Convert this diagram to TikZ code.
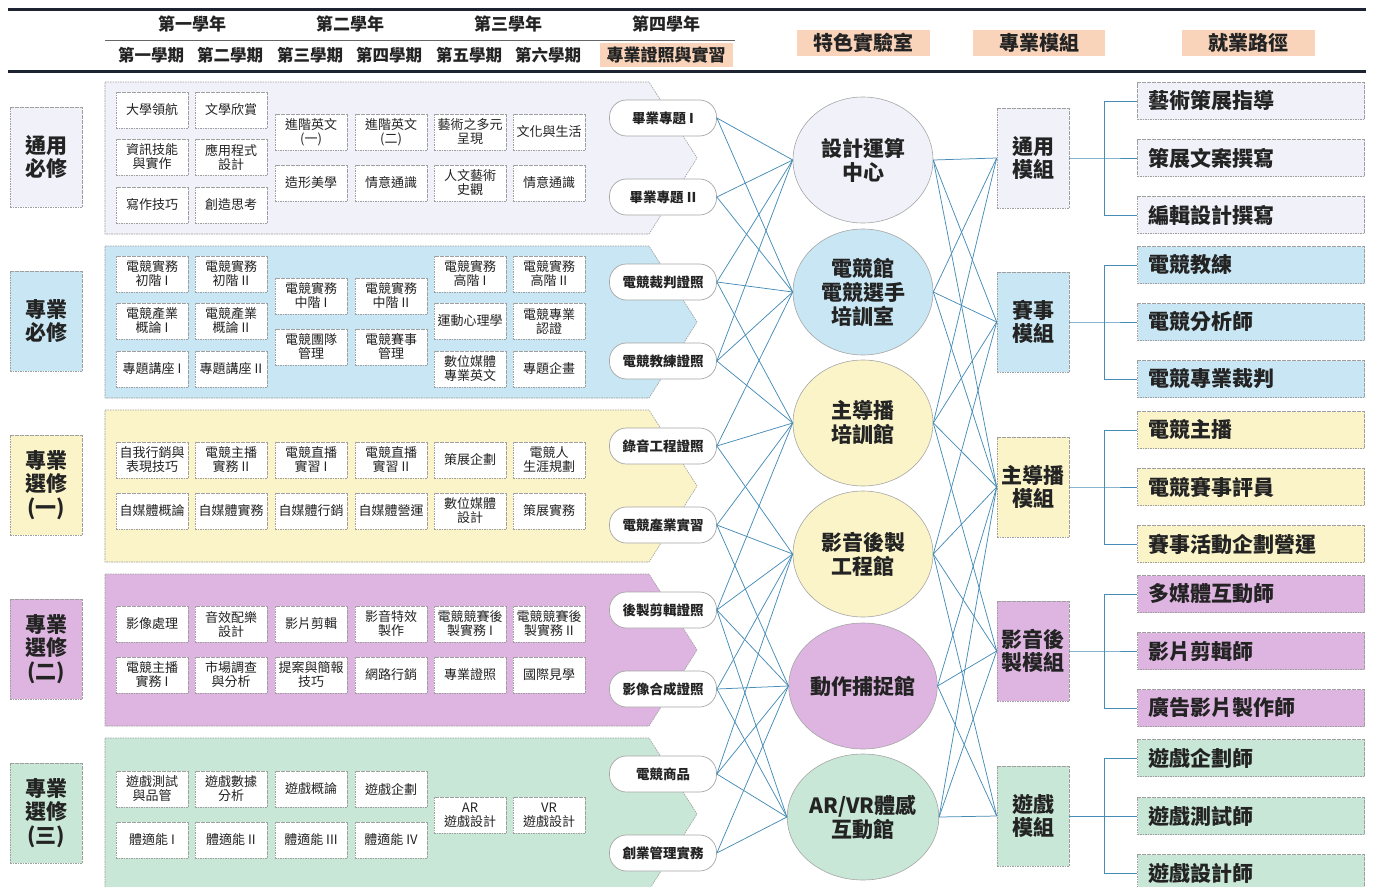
\documentclass[tikz,border=0pt]{standalone}
\usepackage{fontspec}
\setmainfont{Noto Sans CJK TC}
\usetikzlibrary{shapes.geometric}
\definecolor{cLav}{RGB}{241,242,249}
\definecolor{cBlue}{RGB}{200,230,243}
\definecolor{cYel}{RGB}{250,244,200}
\definecolor{cPur}{RGB}{221,181,224}
\definecolor{cGrn}{RGB}{200,231,214}
\definecolor{cPeach}{RGB}{249,212,186}
\definecolor{cLine}{RGB}{70,140,182}
\definecolor{cNavy}{RGB}{30,35,50}
\definecolor{cText}{RGB}{35,35,35}
\tikzset{
 dbord/.style={draw=gray!75, line width=0.6pt, dash pattern=on 1.6pt off 0.9pt},
 course/.style={dbord, fill=white, minimum width=72pt, minimum height=36pt, inner sep=0.5pt, align=center, font=\fontsize{13}{14}\selectfont, text=cText},
 cat/.style={dbord, minimum width=72pt, minimum height=100pt, inner sep=1pt, align=center, font=\fontsize{21}{23.5}\selectfont\bfseries, text=cText},
 pill/.style={draw=gray!70, line width=0.7pt, fill=white, rounded corners=17pt, minimum width=107pt, minimum height=36pt, inner sep=1pt, font=\fontsize{13.5}{15}\selectfont\bfseries, text=cText},
 lab/.style={ellipse, draw=gray!70, line width=0.6pt, minimum width=140pt, minimum height=126pt, align=center, font=\fontsize{21}{24}\selectfont\bfseries, inner sep=0pt, text=cText},
 career/.style={dbord, minimum width=227pt, minimum height=37pt, text width=205pt, align=left, font=\fontsize{21}{23}\selectfont\bfseries, text=cText},
 link/.style={draw=cLine, line width=0.75pt},
 band/.style={dbord},
 hdr/.style={font=\fontsize{17}{19}\selectfont\bfseries, text=cText},
 sem/.style={font=\fontsize{16.5}{18}\selectfont\bfseries, text=cText, inner sep=1pt},
 peachbox/.style={fill=cPeach, minimum height=26pt, font=\fontsize{20}{22}\selectfont\bfseries, text=cText},
}
\begin{document}
\begin{tikzpicture}[x=1pt,y=-1pt]
\useasboundingbox (0,0) rectangle (1373,886);
% header
\draw[cNavy, line width=3pt] (8,9) -- (1366,9);
\draw[cNavy, line width=3pt] (8,71) -- (1366,71);
\draw[gray!80!black, line width=0.8pt] (105,40) -- (735,40);
\node[hdr] (y1) at (192,24) {第一學年};
\node[hdr] (y2) at (350,24) {第二學年};
\node[hdr] (y3) at (508,24) {第三學年};
\node[hdr] (y4) at (666,24) {第四學年};
\node[sem] (s1) at (151,55) {第一學期};
\node[sem] (s2) at (230,55) {第二學期};
\node[sem] (s3) at (310,55) {第三學期};
\node[sem] (s4) at (389,55) {第四學期};
\node[sem] (s5) at (469,55) {第五學期};
\node[sem] (s6) at (548,55) {第六學期};
\node[sem, fill=cPeach, minimum width=133pt, minimum height=24pt, font=\fontsize{17}{19}\selectfont\bfseries] (s7) at (666,55) {專業證照與實習};
\node[peachbox, minimum width=133pt] (h1) at (863,43) {特色實驗室};
\node[peachbox, minimum width=132pt] (h2) at (1039,43) {專業模組};
\node[peachbox, minimum width=133pt] (h3) at (1248,43) {就業路徑};
% bands
\foreach \T/\c in {82/cLav,246/cBlue,410/cYel,574/cPur,738/cGrn}{
  \draw[band, fill=\c] (105,\T) -- (649,\T) -- (697,\T+76) -- (649,\T+152) -- (105,\T+152) -- cycle;
}
% category boxes
\node[cat, fill=cLav] (k1) at (46,157) {通用\\必修};
\node[cat, fill=cBlue] (k2) at (46,321) {專業\\必修};
\node[cat, fill=cYel] (k3) at (46,485) {專業\\選修\\(一)};
\node[cat, fill=cPur] (k4) at (46,649) {專業\\選修\\(二)};
\node[cat, fill=cGrn] (k5) at (46,813) {專業\\選修\\(三)};
% band 1 courses
\node[course] (a11) at (152,110) {大學領航};
\node[course] (a12) at (152,157) {資訊技能\\與實作};
\node[course] (a13) at (152,205) {寫作技巧};
\node[course] (a21) at (231,110) {文學欣賞};
\node[course] (a22) at (231,157) {應用程式\\設計};
\node[course] (a23) at (231,205) {創造思考};
\node[course] (a31) at (311,132) {進階英文\\(一)};
\node[course] (a32) at (311,183) {造形美學};
\node[course] (a41) at (391,132) {進階英文\\(二)};
\node[course] (a42) at (391,183) {情意通識};
\node[course] (a51) at (470,132) {藝術之多元\\呈現};
\node[course] (a52) at (470,183) {人文藝術\\史觀};
\node[course] (a61) at (549,132) {文化與生活};
\node[course] (a62) at (549,183) {情意通識};
% band 2 courses
\node[course] (b11) at (152,274) {電競實務\\初階 I};
\node[course] (b12) at (152,321) {電競產業\\概論 I};
\node[course] (b13) at (152,369) {專題講座 I};
\node[course] (b21) at (231,274) {電競實務\\初階 II};
\node[course] (b22) at (231,321) {電競產業\\概論 II};
\node[course] (b23) at (231,369) {專題講座 II};
\node[course] (b31) at (311,296) {電競實務\\中階 I};
\node[course] (b32) at (311,347) {電競團隊\\管理};
\node[course] (b41) at (391,296) {電競實務\\中階 II};
\node[course] (b42) at (391,347) {電競賽事\\管理};
\node[course] (b51) at (470,274) {電競實務\\高階 I};
\node[course] (b52) at (470,321) {運動心理學};
\node[course] (b53) at (470,369) {數位媒體\\專業英文};
\node[course] (b61) at (549,274) {電競實務\\高階 II};
\node[course] (b62) at (549,321) {電競專業\\認證};
\node[course] (b63) at (549,369) {專題企畫};
% band 3 courses
\node[course] (c11) at (152,460) {自我行銷與\\表現技巧};
\node[course] (c21) at (231,460) {電競主播\\實務 II};
\node[course] (c31) at (311,460) {電競直播\\實習 I};
\node[course] (c41) at (391,460) {電競直播\\實習 II};
\node[course] (c51) at (470,460) {策展企劃};
\node[course] (c61) at (549,460) {電競人\\生涯規劃};
\node[course] (c12) at (152,511) {自媒體概論};
\node[course] (c22) at (231,511) {自媒體實務};
\node[course] (c32) at (311,511) {自媒體行銷};
\node[course] (c42) at (391,511) {自媒體營運};
\node[course] (c52) at (470,511) {數位媒體\\設計};
\node[course] (c62) at (549,511) {策展實務};
% band 4 courses
\node[course] (d11) at (152,624) {影像處理};
\node[course] (d21) at (231,624) {音效配樂\\設計};
\node[course] (d31) at (311,624) {影片剪輯};
\node[course] (d41) at (391,624) {影音特效\\製作};
\node[course] (d51) at (470,624) {電競競賽後\\製實務 I};
\node[course] (d61) at (549,624) {電競競賽後\\製實務 II};
\node[course] (d12) at (152,675) {電競主播\\實務 I};
\node[course] (d22) at (231,675) {市場調查\\與分析};
\node[course] (d32) at (311,675) {提案與簡報\\技巧};
\node[course] (d42) at (391,675) {網路行銷};
\node[course] (d52) at (470,675) {專業證照};
\node[course] (d62) at (549,675) {國際見學};
% band 5 courses
\node[course] (e11) at (152,789) {遊戲測試\\與品管};
\node[course] (e21) at (231,789) {遊戲數據\\分析};
\node[course] (e31) at (311,789) {遊戲概論};
\node[course] (e41) at (391,789) {遊戲企劃};
\node[course] (e12) at (152,840) {體適能 I};
\node[course] (e22) at (231,840) {體適能 II};
\node[course] (e32) at (311,840) {體適能 III};
\node[course] (e42) at (391,840) {體適能 IV};
\node[course] (e51) at (470,815) {AR\\遊戲設計};
\node[course] (e61) at (549,815) {VR\\遊戲設計};
% pills
\node[pill] (p1) at (663,118) {畢業專題 I};
\node[pill] (p2) at (663,197) {畢業專題 II};
\node[pill] (p3) at (663,282) {電競裁判證照};
\node[pill] (p4) at (663,361) {電競教練證照};
\node[pill] (p5) at (663,446) {錄音工程證照};
\node[pill] (p6) at (663,525) {電競產業實習};
\node[pill] (p7) at (663,610) {後製剪輯證照};
\node[pill] (p8) at (663,689) {影像合成證照};
\node[pill] (p9) at (663,774) {電競商品};
\node[pill] (p10) at (663,853) {創業管理實務};
% labs
\node[lab, fill=cLav] (c1) at (863,160) {設計運算\\中心};
\node[lab, fill=cBlue] (c2) at (863,292) {電競館\\電競選手\\培訓室};
\node[lab, fill=cYel] (c3) at (863,423) {主導播\\培訓館};
\node[lab, fill=cYel] (c4) at (863,554) {影音後製\\工程館};
\node[lab, fill=cPur] (c5) at (863,686) {動作捕捉館};
\node[lab, fill=cGrn] (c6) at (863,817) {AR/VR體感\\互動館};
% modules
\node[cat, fill=cLav] (m1) at (1033,158) {通用\\模組};
\node[cat, fill=cBlue] (m2) at (1033,322) {賽事\\模組};
\node[cat, fill=cYel] (m3) at (1033,487) {主導播\\模組};
\node[cat, fill=cPur] (m4) at (1033,651) {影音後\\製模組};
\node[cat, fill=cGrn] (m5) at (1033,816) {遊戲\\模組};
% careers
\node[career, fill=cLav] (j11) at (1251,101) {藝術策展指導};
\node[career, fill=cLav] (j12) at (1251,158) {策展文案撰寫};
\node[career, fill=cLav] (j13) at (1251,215) {編輯設計撰寫};
\node[career, fill=cBlue] (j21) at (1251,265) {電競教練};
\node[career, fill=cBlue] (j22) at (1251,322) {電競分析師};
\node[career, fill=cBlue] (j23) at (1251,379) {電競專業裁判};
\node[career, fill=cYel] (j31) at (1251,430) {電競主播};
\node[career, fill=cYel] (j32) at (1251,487) {電競賽事評員};
\node[career, fill=cYel] (j33) at (1251,544) {賽事活動企劃營運};
\node[career, fill=cPur] (j41) at (1251,594) {多媒體互動師};
\node[career, fill=cPur] (j42) at (1251,651) {影片剪輯師};
\node[career, fill=cPur] (j43) at (1251,708) {廣告影片製作師};
\node[career, fill=cGrn] (j51) at (1251,758) {遊戲企劃師};
\node[career, fill=cGrn] (j52) at (1251,816) {遊戲測試師};
\node[career, fill=cGrn] (j53) at (1251,873) {遊戲設計師};
% brackets
\foreach \k/\y in {1/158,2/322,3/487,4/651,5/816}{
  \coordinate (br\k) at (1104,\y);
  \draw[link] (m\k.east) -- (br\k) -- (j\k2.west);
  \draw[link] (j\k1.west) -| (br\k) |- (j\k3.west);
}
% pill -> lab links
\foreach \p/\cs in {1/{1,2},2/{1,2},3/{1,2,3},4/{1,2,3},5/{2,3,4},6/{3,4,5},7/{3,4,5,6},8/{4,5,6},9/{4,5,6},10/{5,6}}{
  \foreach \c in \cs { \draw[link] (p\p.east) -- (c\c.west); }
}
% lab -> module links
\foreach \c/\ms in {1/{1,2,3},2/{1,2,3},3/{1,2,3,4},4/{2,3,4,5},5/{3,4,5},6/{3,4,5}}{
  \foreach \m in \ms { \draw[link] (c\c.east) -- (m\m.west); }
}
\end{tikzpicture}
\end{document}
